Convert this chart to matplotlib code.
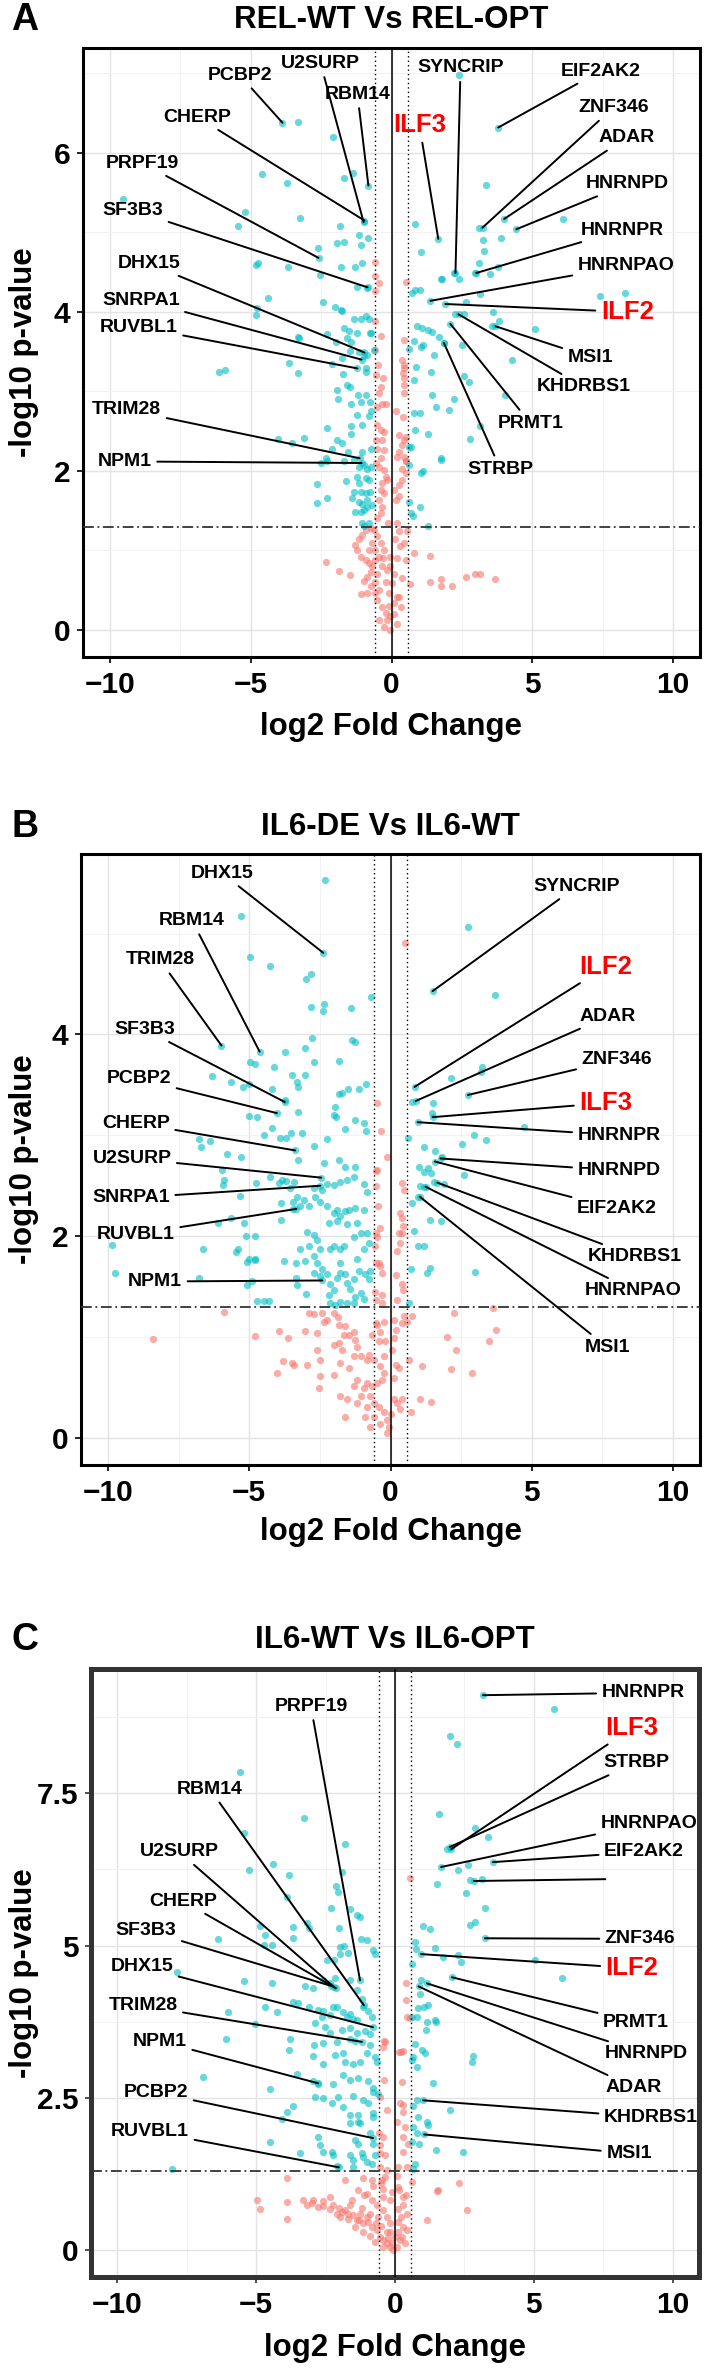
import numpy as np
import matplotlib
matplotlib.use("Agg")
import matplotlib.pyplot as plt

plt.rcParams["font.family"] = ["Liberation Sans", "DejaVu Sans"]

FC_CUT = 0.585          # |log2 FC| threshold (dotted lines)
P_CUT = 1.301           # -log10(0.05) (dash-dot line)
TEAL = "#00BFC4"
SALMON = "#F8766D"

# ---------------- panel A : REL-WT Vs REL-OPT ----------------
A_PTS = [
    (-3.33, 6.39), (-2.06, 6.2), (2.38, 6.98), (-1.67, 5.68), (-1.35, 5.75), (-4.61, 5.73),
    (-3.72, 5.62), (-9.54, 5.42), (-5.21, 5.26), (-5.46, 5.08), (-3.23, 5.18), (-1.84, 5.08),
    (3.37, 5.6), (6.1, 5.17), (3.12, 5.05), (0.85, 5.11), (3.23, 4.9), (3.9, 4.93), (3.3, 4.77),
    (-1.17, 4.97), (-0.85, 4.93), (-1.67, 4.88), (-1.95, 4.87), (-1.1, 4.84), (-2.62, 4.8),
    (7.41, 4.2), (8.3, 4.24), (5.1, 3.79), (4.26, 3.4), (-6.13, 3.25), (-5.92, 3.27),
    (-4.82, 4.59), (-4.74, 4.62), (-3.66, 4.57), (-2.54, 4.46), (-1.8, 4.57), (-1.28, 4.56),
    (-1.05, 4.62), (-1.23, 4.31), (-0.86, 4.30), (-4.39, 4.18), (-2.42, 4.13), (-4.79, 4.05),
    (-4.82, 3.96), (-1.99, 4.06), (-1.8, 4.03), (-1.75, 4.01), (-1.33, 3.91), (-1.09, 3.91),
    (-0.92, 3.95), (-0.8, 3.91), (-1.69, 3.8), (-1.51, 3.76), (-1.21, 3.74), (-0.77, 3.74),
    (-0.72, 3.73), (-2.28, 3.72), (-3.31, 3.68), (-3.27, 3.67), (-1.57, 3.67), (-1.45, 3.62),
    (-1.98, 3.62), (-1.48, 3.51), (-1.16, 3.50), (-0.98, 3.44), (-0.86, 3.46), (-0.63, 3.52),
    (-1.75, 3.42), (-2.1, 3.35), (-3.64, 3.36), (-3.31, 3.23), (-0.92, 3.29), (-0.92, 3.24),
    (-1.72, 3.22), (-1.59, 3.08), (-1.48, 3.05), (-1.95, 3.02), (-1.89, 2.90), (-1.18, 2.96),
    (-0.92, 2.95), (-1.09, 2.87), (-1.45, 2.84), (-1.24, 2.71), (-0.77, 2.87), (-0.74, 2.75),
    (-0.8, 2.69), (-1.04, 2.58), (-1.42, 2.57), (-1.45, 2.47), (-1.93, 2.39), (-1.75, 2.35),
    (-2.1, 2.28), (-2.34, 2.16), (-1.54, 2.24), (-1.34, 2.14), (-1.04, 2.24), (-0.72, 2.28),
    (-2.28, 2.54), (-3.11, 2.41), (-3.52, 2.35), (-4.03, 2.4), (-1.69, 2.13),
    (-0.57, 4.63), (-0.57, 4.45), (-0.45, 4.37), (-0.57, 4.26), (-0.57, 3.89), (-0.39, 3.70),
    (-0.57, 3.52), (-0.48, 3.33), (-0.55, 3.21), (-0.3, 3.17), (-0.39, 3.06), (-0.45, 2.98),
    (-0.33, 2.84), (-0.51, 2.81), (-0.21, 2.84), (-0.51, 2.58), (-0.39, 2.51), (-0.27, 2.49),
    (-0.55, 2.39), (-0.33, 2.39), (-0.51, 2.27), (-0.27, 2.26), (-0.39, 2.16), (-0.55, 2.10),
    (0.53, 4.38), (0.46, 3.65), (0.38, 3.4), (0.44, 3.33), (0.46, 3.29), (0.41, 3.23),
    (0.46, 3.17), (0.44, 3.08), (0.46, 2.98), (0.16, 2.75), (0.41, 2.68), (0.5, 2.43),
    (0.46, 2.39), (0.39, 2.33), (0.25, 2.24), (0.19, 2.18), (0.44, 2.18), (0.5, 2.13), (0.28, 2.45),
    (1.03, 4.76), (1.74, 4.41), (1.78, 4.41), (2.21, 4.49), (2.39, 4.42), (2.95, 4.49),
    (3.1, 4.61), (3.51, 4.48), (3.77, 4.56), (0.73, 4.24), (0.82, 4.27), (1.0, 4.28),
    (2.63, 4.12), (3.13, 4.23), (2.27, 3.98), (2.57, 3.97), (3.59, 4.0), (3.57, 3.82),
    (3.83, 3.89), (0.92, 3.82), (1.1, 3.8), (1.28, 3.77), (1.44, 3.75), (1.68, 3.69),
    (1.86, 3.61), (0.8, 3.64), (1.13, 3.58), (1.03, 3.56), (1.5, 3.46), (2.51, 3.59),
    (0.88, 3.31), (0.8, 3.14), (1.41, 3.24), (1.44, 2.96), (1.58, 2.81), (2.03, 2.77),
    (2.21, 2.90), (2.57, 3.19), (2.74, 3.12), (0.8, 2.73), (1.01, 2.73), (0.83, 2.51),
    (1.28, 2.46), (1.74, 2.16), (3.13, 2.57), (0.62, 3.53), (0.62, 2.3), (0.68, 2.3),
    (0.62, 2.08), (1.13, 2.0), (2.8, 2.4), (4.04, 2.95),
    (-2.52, 2.1), (-2.3, 2.12), (-1.14, 2.05), (-0.98, 2.07), (-0.86, 2.02), (-0.74, 2.05),
    (-2.64, 1.84), (-2.28, 1.66), (-2.66, 1.6), (-1.63, 1.87), (-1.21, 1.93), (-1.16, 1.85),
    (-0.92, 1.91), (-0.8, 1.89), (-1.34, 1.74), (-1.09, 1.74), (-0.92, 1.72), (-0.77, 1.74),
    (-1.4, 1.66), (-1.16, 1.61), (-1.04, 1.59), (-0.86, 1.63), (-1.28, 1.49), (-1.09, 1.49),
    (-0.98, 1.51), (-0.86, 1.55), (-0.68, 1.57), (-1.04, 1.34), (-0.8, 1.35), (-0.98, 1.31),
    (1.05, 1.98), (0.62, 1.61), (0.68, 1.47), (0.77, 1.43), (1.01, 1.55), (1.3, 1.31), (1.74, 2.14),
    (-0.45, 2.05), (-0.27, 2.01), (-0.21, 1.93), (-0.15, 1.89), (-0.33, 1.85), (-0.39, 1.76),
    (-0.27, 1.72), (-0.45, 1.63), (-0.33, 1.55), (-0.39, 1.47), (-0.51, 1.41), (-0.13, 1.35),
    (0.2, 1.34), (0.17, 1.63), (0.08, 1.76), (0.26, 1.82), (0.38, 2.03), (0.5, 2.12),
    (0.5, 1.97), (0.38, 1.89), (0.26, 1.68),
    (-0.63, 1.26), (-0.51, 1.18), (-0.39, 1.09), (-0.27, 1.01), (-0.45, 0.92), (-0.57, 0.88),
    (-0.33, 0.80), (-0.04, 0.92), (-0.04, 0.80), (0.08, 0.71), (0.02, 0.59), (-0.09, 0.46),
    (0.08, 0.34), (0.2, 0.42), (0.32, 0.29), (0.2, 0.08), (-0.04, 0.0), (-0.04, 0.17),
    (-0.74, 1.28), (-0.92, 1.26), (-1.04, 1.20), (-1.16, 1.14), (-1.28, 1.07), (-1.21, 1.01),
    (-1.09, 0.92), (-0.92, 0.88), (-0.8, 0.84), (-0.68, 0.80), (-0.74, 0.73), (-0.86, 0.67),
    (-0.98, 0.61), (-0.74, 0.55), (-0.57, 0.46), (-0.51, 0.38), (-0.33, 0.29), (-0.21, 0.21),
    (-0.15, 0.13), (-0.27, 0.04), (-0.45, 0.13), (-2.34, 0.86), (-1.87, 0.74), (-1.48, 0.69),
    (-1.09, 0.45), (-0.86, 0.46), (0.14, 1.14), (0.26, 1.24), (0.44, 1.09), (0.56, 1.25),
    (0.79, 0.97), (1.36, 0.93), (0.65, 0.58), (1.38, 0.6), (1.74, 0.64), (1.74, 0.55),
    (2.15, 0.55), (2.63, 0.66), (2.95, 0.71), (3.13, 0.70), (3.69, 0.64), (0.26, 0.42),
    (0.38, 0.65), (0.5, 0.88), (0.2, 0.90), (-0.6, 1.0), (-0.7, 1.1), (-0.5, 0.7), (-0.6, 0.6),
    (-0.45, 0.5), (-0.2, 0.6), (-0.1, 0.3), (0.1, 0.2), (-0.3, 0.9), (-0.8, 1.0), (0.3, 1.05),
    (-0.15, 0.75),
]
A_GENES = [
    ("PCBP2", -3.87, 6.38), ("U2SURP", -0.99, 5.13), ("RBM14", -0.82, 5.59),
    ("CHERP", -0.96, 5.15), ("PRPF19", -2.59, 4.68), ("SF3B3", -0.85, 4.31),
    ("DHX15", -0.96, 3.49), ("SNRPA1", -1.06, 3.40), ("RUVBL1", -1.21, 3.29),
    ("TRIM28", -1.13, 2.16), ("NPM1", -1.06, 2.10), ("SYNCRIP", 2.27, 4.49),
    ("EIF2AK2", 3.79, 6.32), ("ZNF346", 3.23, 5.06), ("ADAR", 4.0, 5.17),
    ("HNRNPD", 4.43, 5.04), ("HNRNPR", 3.01, 4.49), ("HNRNPAO", 1.38, 4.14),
    ("ILF2", 1.91, 4.10), ("MSI1", 3.69, 3.82), ("KHDRBS1", 2.38, 3.97),
    ("PRMT1", 2.09, 3.85), ("STRBP", 1.86, 3.61), ("ILF3", 1.66, 4.92),
]
A_LABEL_POS = {
    "PCBP2": (-5.39, 6.98), "U2SURP": (-2.52, 7.13), "RBM14": (-1.21, 6.74),
    "CHERP": (-6.88, 6.45), "PRPF19": (-8.83, 5.87), "SF3B3": (-9.18, 5.28),
    "DHX15": (-8.62, 4.61), "SNRPA1": (-8.9, 4.15), "RUVBL1": (-8.97, 3.81),
    "TRIM28": (-9.4, 2.77), "NPM1": (-9.47, 2.12), "SYNCRIP": (2.45, 7.07),
    "EIF2AK2": (7.41, 7.03), "ZNF346": (7.87, 6.57), "ADAR": (8.33, 6.19),
    "HNRNPD": (8.37, 5.61), "HNRNPR": (8.19, 5.03), "HNRNPAO": (8.33, 4.58),
    "ILF2": (8.37, 4.0), "MSI1": (7.06, 3.43), "KHDRBS1": (6.81, 3.06),
    "PRMT1": (4.93, 2.6), "STRBP": (3.87, 2.02), "ILF3": (0.99, 6.35),
}

# ---------------- panel B : IL6-DE Vs IL6-WT ----------------
B_PTS = [
    (-2.3, 5.53), (-5.3, 5.18), (-4.98, 4.77), (-4.27, 4.68), (-2.81, 4.6), (-2.99, 4.55),
    (-0.68, 4.37), (-2.81, 4.27), (-2.35, 4.3), (-2.38, 4.23), (-1.39, 4.26), (-2.78, 3.97),
    (-1.35, 3.95), (-1.25, 3.93), (-4.98, 3.73), (-4.8, 3.71), (-3.74, 3.83), (-3.02, 3.87),
    (-2.7, 3.73), (-1.81, 3.74), (-4.13, 3.68), (-3.49, 3.6), (-3.02, 3.6), (-6.33, 3.59),
    (-5.66, 3.53), (-5.23, 3.48), (-5.02, 3.51), (-4.2, 3.46), (-3.31, 3.53), (-3.27, 3.48),
    (-3.74, 3.35), (-1.81, 3.41), (-1.71, 3.42), (-1.49, 3.46), (-1.1, 3.46), (-0.85, 3.51),
    (-1.96, 3.28), (-3.27, 3.23), (-5.02, 3.19), (-4.73, 3.18), (-4.48, 3.0), (-4.2, 3.07),
    (-3.91, 2.97), (-3.7, 2.97), (-3.52, 3.02), (-3.13, 3.02), (-2.7, 2.89), (-2.24, 2.96),
    (-1.99, 3.2), (-1.92, 3.18), (-1.6, 3.06), (-1.25, 3.15), (-0.93, 3.12), (-0.85, 3.04),
    (-6.76, 2.96), (-6.69, 2.88), (-6.37, 2.94), (-5.8, 2.81), (-5.3, 2.78), (-3.27, 2.76),
    (-2.35, 2.73), (-1.81, 2.76), (-1.6, 2.69), (-1.25, 2.69),
    (0.5, 4.91), (-0.46, 3.32), (-0.32, 3.04), (-0.14, 2.78), (-0.46, 2.66),
    (2.74, 5.07), (3.7, 4.39), (0.75, 3.33), (1.49, 3.32), (2.14, 3.57), (3.2, 3.63),
    (3.24, 3.68), (1.46, 3.22), (0.62, 2.97), (2.95, 3.0), (3.38, 2.95), (4.73, 3.08),
    (2.53, 2.91), (1.2, 2.88), (1.56, 2.84), (1.81, 2.78), (1.0, 2.69), (1.32, 2.68),
    (1.17, 2.64), (1.42, 2.63),
    (-9.87, 1.91), (-6.64, 1.87), (-6.09, 2.13), (-5.65, 2.18), (-5.38, 1.87), (-5.46, 1.84),
    (-5.18, 2.13), (-5.12, 2.0), (-4.81, 2.0), (-4.78, 1.76), (-5.08, 1.74), (-5.9, 2.56),
    (-5.93, 2.51), (-5.97, 2.66), (-5.32, 2.4), (-4.75, 2.53), (-4.26, 2.59), (-3.96, 2.53),
    (-3.84, 2.56), (-3.69, 2.55), (-3.57, 2.48), (-3.43, 2.54), (-3.88, 2.33), (-3.45, 2.34),
    (-3.31, 2.39), (-3.19, 2.3), (-3.07, 2.36), (-2.9, 2.3), (-2.72, 2.48), (-2.66, 2.39),
    (-2.48, 2.34), (-2.42, 2.46), (-2.25, 2.52), (-2.01, 2.51), (-1.78, 2.54), (-1.54, 2.56),
    (-1.3, 2.59), (-0.95, 2.52), (-0.83, 2.44), (-2.25, 2.3), (-2.01, 2.23), (-1.89, 2.26),
    (-1.78, 2.2), (-1.6, 2.25), (-1.48, 2.26), (-1.25, 2.28), (-0.95, 2.26), (-2.19, 2.13),
    (-1.89, 2.15), (-1.54, 2.12), (-1.19, 2.13), (-3.87, 2.16), (-3.46, 2.27), (-2.95, 2.04),
    (-2.72, 2.01), (-2.6, 1.96), (-2.9, 1.9), (-3.19, 1.87), (-2.48, 1.87), (-2.13, 1.87),
    (-2.01, 1.9), (-1.78, 1.87), (-1.66, 1.9), (-1.3, 1.99), (-1.06, 2.03), (-0.83, 2.03),
    (-0.77, 1.93), (-0.95, 1.87), (-2.72, 1.8), (-2.6, 1.73), (-1.78, 1.73), (-1.19, 1.77),
    (1.54, 2.54), (1.05, 2.5), (1.17, 2.49), (0.97, 2.39), (0.76, 2.33), (1.39, 2.16),
    (1.8, 2.15), (0.82, 2.05), (1.17, 1.9), (0.99, 1.9), (1.9, 2.52), (2.61, 2.61),
    (0.4, 2.53), (0.49, 2.46), (0.35, 2.23), (0.39, 2.18), (0.3, 2.03), (0.4, 2.03),
    (0.35, 1.93), (0.24, 1.85), (-0.36, 2.08), (-0.53, 2.03), (-0.56, 1.9), (-0.47, 1.99),
    (-0.41, 1.73), (-0.53, 1.73), (-0.51, 2.65), (-0.45, 2.3), (0.45, 2.1), (-0.5, 2.5),
    (-9.75, 1.63), (-6.76, 1.58), (-5.08, 1.52), (-4.9, 1.55), (-4.49, 1.36), (-4.73, 1.36),
    (-4.31, 1.36), (-3.36, 1.58), (-3.31, 1.52), (-2.98, 1.43), (-2.72, 1.63), (-2.48, 1.6),
    (-2.42, 1.67), (-2.25, 1.62), (-2.13, 1.53), (-2.01, 1.47), (-2.19, 1.42), (-2.13, 1.34),
    (-1.89, 1.58), (-1.78, 1.63), (-1.6, 1.62), (-1.54, 1.54), (-1.42, 1.48), (-1.3, 1.57),
    (-1.24, 1.40), (-1.12, 1.65), (-1.06, 1.44), (-0.95, 1.38), (-0.89, 1.62), (-0.77, 1.57),
    (-0.71, 1.65), (-1.78, 1.35), (-1.54, 1.34), (-1.95, 1.32), (-1.3, 1.34), (-3.02, 1.75),
    (-5.02, 1.77), (-4.78, 1.77), (-3.78, 1.75), (-3.36, 1.73),
    (0.73, 1.67), (1.3, 1.63), (1.4, 1.68), (2.98, 1.64), (0.66, 1.34),
    (-0.36, 1.70), (-0.3, 1.63), (0.18, 1.61), (0.41, 1.53), (0.44, 1.47), (-0.3, 1.42),
    (0.24, 1.37), (-0.3, 1.34), (-0.55, 1.45), (-0.53, 1.37),
    (-5.9, 1.25), (-8.4, 0.98), (-4.78, 1.01), (-3.96, 1.06), (-3.64, 0.99), (-3.02, 1.06),
    (-2.6, 1.04), (-2.9, 1.24), (-2.72, 1.23), (-2.42, 1.24), (-2.37, 1.15), (-2.25, 1.17),
    (-2.01, 1.24), (-1.87, 1.2), (-1.83, 1.12), (-1.6, 1.11), (-1.48, 1.02), (-1.3, 1.05),
    (-1.24, 0.97), (-1.19, 0.9), (-1.66, 1.02), (-2.01, 0.92), (-1.83, 0.94), (-1.72, 0.87),
    (-1.3, 0.81), (-1.06, 0.81), (-0.83, 0.77), (-0.77, 0.82), (-0.59, 0.77), (-0.65, 1.02),
    (-0.53, 1.14), (-0.47, 1.12), (-0.36, 1.05), (-0.24, 1.15), (-0.18, 0.96), (-0.41, 0.96),
    (-0.24, 0.81), (-0.36, 0.71), (-0.24, 0.64), (-0.3, 0.57), (-0.47, 0.54), (-0.65, 0.51),
    (-0.83, 0.54), (-0.95, 0.49), (-0.71, 0.41), (-0.59, 0.34), (-0.41, 0.31), (-0.24, 0.26),
    (-0.12, 0.18), (-0.06, 0.11), (-0.12, 0.05), (-0.36, 0.14), (-0.59, 0.21), (-0.83, 0.31),
    (-1.06, 0.41), (-1.19, 0.57), (-1.3, 0.51), (-1.48, 0.69), (-1.78, 0.74), (-2.01, 0.62),
    (-2.48, 0.61), (-2.54, 0.49), (-2.48, 0.77), (-2.6, 0.87), (-2.95, 0.72), (-3.43, 0.72),
    (-3.49, 0.74), (-3.8, 0.76), (-4.02, 0.64), (-1.78, 0.41), (-1.54, 0.38), (-1.19, 0.34),
    (-1.6, 0.21), (-0.89, 0.21), (-0.71, 0.11), (0.0, 0.24), (0.12, 0.38), (0.24, 0.34),
    (0.35, 0.29), (0.41, 0.38), (0.12, 0.59), (0.18, 0.72), (0.3, 0.69), (0.65, 0.77),
    (1.12, 0.71), (2.13, 0.68), (2.9, 0.64), (2.01, 1.0), (2.3, 0.87), (3.49, 0.96),
    (3.72, 1.07), (2.25, 1.24), (3.61, 1.29), (1.06, 0.38), (1.42, 0.35), (0.12, 0.99),
    (0.18, 1.07), (0.41, 1.14), (0.59, 1.15), (0.77, 1.21), (0.47, 1.21), (0.12, 1.17),
    (0.06, 0.87), (0.71, 0.26),
]
B_GENES = [
    ("DHX15", -2.38, 4.81), ("RBM14", -4.63, 3.83), ("TRIM28", -5.98, 3.89),
    ("SF3B3", -3.74, 3.33), ("PCBP2", -4.02, 3.22), ("CHERP", -3.37, 2.85),
    ("U2SURP", -2.45, 2.58), ("SNRPA1", -2.48, 2.50), ("RUVBL1", -3.33, 2.27),
    ("NPM1", -2.41, 1.56), ("SYNCRIP", 1.49, 4.43), ("ILF2", 0.85, 3.48),
    ("ADAR", 0.89, 3.34), ("ZNF346", 2.74, 3.40), ("ILF3", 1.49, 3.18),
    ("HNRNPR", 0.96, 3.13), ("HNRNPD", 1.77, 2.77), ("EIF2AK2", 1.57, 2.74),
    ("KHDRBS1", 1.66, 2.53), ("HNRNPAO", 1.24, 2.49), ("MSI1", 1.04, 2.39),
]
B_LABEL_POS = {
    "DHX15": (-5.96, 5.6), "RBM14": (-7.02, 5.13), "TRIM28": (-8.16, 4.74),
    "SF3B3": (-8.69, 4.05), "PCBP2": (-8.9, 3.56), "CHERP": (-9.01, 3.12),
    "U2SURP": (-9.15, 2.77), "SNRPA1": (-9.18, 2.38), "RUVBL1": (-9.01, 2.02),
    "NPM1": (-8.33, 1.55), "SYNCRIP": (6.6, 5.47), "ILF2": (7.62, 4.67),
    "ADAR": (7.7, 4.18), "ZNF346": (8.01, 3.75), "ILF3": (7.62, 3.32),
    "HNRNPR": (8.09, 3.0), "HNRNPD": (8.09, 2.65), "EIF2AK2": (8.01, 2.27),
    "KHDRBS1": (8.65, 1.8), "HNRNPAO": (8.58, 1.46), "MSI1": (7.66, 0.9),
}

# ---------------- panel C : IL6-WT Vs IL6-OPT ----------------
C_PTS = [
    (5.73, 8.88), (1.98, 8.44), (2.23, 8.31), (-5.59, 7.85), (-3.28, 7.09), (-5.44, 6.85),
    (1.59, 7.16), (2.88, 6.93), (3.35, 6.78), (-1.8, 6.67), (1.87, 6.58), (-4.4, 6.34),
    (-5.26, 6.24), (-3.82, 6.16), (-1.91, 6.21), (2.63, 6.32), (2.27, 6.24), (0.54, 6.11),
    (2.7, 6.08), (3.13, 6.09), (1.51, 6.01), (-2.13, 5.98), (-2.05, 5.88), (-3.89, 5.8),
    (2.56, 5.86), (-2.31, 5.62), (-1.62, 5.6), (-1.37, 5.5), (-3.17, 5.37), (-4.86, 5.32),
    (-3.68, 5.3), (-3.1, 5.29), (-1.26, 5.47), (3.24, 5.62), (2.7, 5.34), (2.88, 5.39),
    (1.0, 5.32), (1.26, 5.27), (0.72, 5.06), (0.76, 4.94), (1.44, 4.96), (-6.38, 5.11),
    (-4.68, 5.17), (-4.72, 5.01), (-4.43, 5.01), (-3.68, 5.12), (-2.02, 5.29), (-1.23, 5.11),
    (-1.01, 5.09), (-0.79, 4.93), (-0.72, 4.86), (-1.98, 4.98), (-1.84, 4.99), (-1.69, 4.88),
    (-1.98, 4.86), (-2.2, 4.76), (-2.45, 4.76), (1.73, 4.81), (2.27, 4.84), (2.38, 4.73),
    (5.05, 4.76), (6.02, 4.47), (0.62, 4.7), (-7.86, 4.56),
    (-5.43, 4.42), (-4.44, 4.38), (-3.24, 4.33), (-2.94, 4.31), (-2.58, 4.43), (-2.34, 4.38),
    (-2.16, 4.46), (-1.63, 4.43), (-1.38, 4.27), (-1.2, 4.13), (-1.14, 4.0), (-0.96, 3.92),
    (-0.84, 3.83), (-6.0, 3.91), (-4.26, 3.91), (-4.68, 3.99), (-3.66, 4.08), (-3.48, 4.06),
    (-3.09, 4.0), (-2.76, 3.95), (-2.58, 3.93), (-2.22, 4.0), (-2.1, 4.0), (-1.86, 3.91),
    (-1.74, 3.83), (-1.62, 3.88), (-1.5, 3.79), (-1.38, 3.78), (-2.64, 3.83), (-2.34, 3.86),
    (-5.04, 3.72), (-6.1, 3.47), (-3.78, 3.47), (-3.81, 3.28), (-2.89, 3.73), (-2.52, 3.67),
    (-2.34, 3.56), (-1.92, 3.61), (-1.62, 3.64), (-1.38, 3.56), (-1.08, 3.59), (-0.9, 3.55),
    (-2.9, 3.37), (-2.58, 3.4), (-2.1, 3.42), (-1.62, 3.47), (-1.44, 3.44), (-0.9, 3.37),
    (-2.94, 3.18), (-2.58, 3.06), (-2.16, 3.2), (-1.86, 3.23), (-1.8, 3.09), (-1.5, 3.06),
    (-1.26, 3.09), (-1.02, 3.23), (-0.72, 3.17), (-0.66, 3.09), (-3.54, 2.9), (-2.94, 2.77),
    (-2.76, 2.72), (-2.22, 2.72), (-1.86, 2.88), (-1.62, 2.8), (-1.32, 2.83), (-0.96, 2.77),
    (-0.78, 2.66), (-4.5, 2.64), (-6.93, 2.85),
    (0.95, 4.44), (0.9, 4.21), (0.84, 3.97), (1.04, 4.0), (1.2, 4.02), (0.78, 3.83),
    (0.62, 3.83), (1.14, 3.75), (1.44, 3.78), (1.48, 3.75), (1.12, 3.61), (0.72, 3.39),
    (0.96, 3.28), (1.08, 3.24), (0.66, 3.17), (0.78, 3.0), (1.38, 2.75), (0.62, 3.12),
    (2.8, 3.18), (2.76, 3.09),
    (0.38, 4.38), (0.39, 4.11), (0.44, 3.82), (-0.4, 3.44), (-0.43, 3.34), (0.13, 3.25),
    (0.3, 3.27), (-0.38, 2.8), (0.24, 2.76), (-0.36, 3.42), (0.22, 3.25), (0.29, 2.38), (0.55, 3.81),
    (-8.05, 1.33), (-4.5, 1.78), (-3.9, 2.27), (-4.08, 2.16), (-3.66, 2.36), (-3.42, 1.59),
    (-2.88, 2.51), (-2.58, 2.49), (-2.28, 2.41), (-2.04, 2.52), (-1.86, 2.35), (-1.62, 2.22),
    (-1.5, 2.53), (-1.32, 2.11), (-1.14, 2.46), (-0.96, 2.41), (-0.78, 2.19), (-0.62, 2.57),
    (-0.8, 2.6), (-2.76, 1.86), (-2.7, 1.72), (-2.58, 1.61), (-2.28, 1.61), (-2.22, 1.56),
    (-2.1, 1.38), (-1.5, 1.37), (-1.44, 1.81), (-1.32, 1.75), (-1.2, 1.59), (-1.14, 1.53),
    (-1.02, 1.45), (-0.84, 1.42), (-0.78, 1.75), (-0.72, 1.56), (-1.5, 1.48), (-1.62, 1.56),
    (-1.32, 2.22), (-1.26, 2.08), (-0.9, 1.92), (-0.8, 2.25), (-1.62, 2.08),
    (0.78, 2.46), (0.66, 2.36), (0.84, 2.19), (1.2, 2.05), (1.14, 2.11), (0.66, 2.02),
    (0.78, 1.92), (0.88, 1.75), (1.48, 1.64), (1.98, 2.3), (2.46, 1.61), (0.62, 1.78),
    (0.72, 1.42), (0.66, 1.34),
    (-0.54, 2.52), (-0.28, 2.3), (-0.57, 1.92), (-0.42, 1.86), (-0.54, 1.72), (-0.36, 1.56),
    (-0.54, 1.59), (-0.55, 1.37), (-0.3, 1.31), (0.18, 2.41), (0.3, 2.27), (0.06, 2.11),
    (0.36, 2.03), (0.3, 1.86), (0.48, 1.75), (0.3, 1.61), (0.12, 1.37), (0.42, 1.37),
    (-3.88, 1.18), (-1.8, 1.16), (-1.14, 1.19), (-0.84, 1.16), (-0.48, 1.15), (-0.42, 1.01),
    (0.06, 1.21), (0.12, 1.04), (0.6, 1.12), (1.5, 0.97), (2.32, 1.1),
    (-4.96, 0.82), (-4.86, 0.67), (-3.9, 0.79), (-3.88, 0.52), (-2.34, 0.87), (-3.3, 0.82),
    (-3.18, 0.74), (-2.94, 0.82), (-2.76, 0.71), (-2.58, 0.72), (-2.34, 0.68), (-2.22, 0.74),
    (-2.1, 0.6), (-1.98, 0.55), (-1.8, 0.66), (-1.62, 0.74), (-1.5, 0.58), (-1.38, 0.49),
    (-1.26, 0.6), (-1.14, 0.44), (-0.96, 0.46), (-0.84, 0.38), (-0.66, 0.33), (-0.54, 0.22),
    (-0.42, 0.17), (-0.3, 0.11), (-0.18, 0.06), (-0.06, 0.0), (-1.68, 0.52), (-1.44, 0.38),
    (-1.14, 0.3), (-0.9, 0.24), (-0.72, 0.14), (-0.42, 0.06), (-1.56, 0.82), (-1.32, 0.99),
    (-1.02, 0.93), (-0.84, 0.82), (-0.66, 0.74), (-0.42, 0.66), (-0.3, 0.55), (-0.18, 0.82),
    (-0.42, 0.87), (-0.18, 0.44), (0.12, 0.46), (0.3, 0.38), (0.42, 0.33), (0.24, 0.22),
    (0.18, 0.17), (0.36, 0.11), (0.06, 0.06), (0.0, 0.22), (-0.18, 0.3), (0.12, 0.68),
    (0.3, 0.74), (0.16, 0.99), (0.3, 0.87), (1.14, 0.49), (2.58, 0.66), (1.56, 0.99),
    (-3.0, 0.78), (-2.6, 0.8), (-2.0, 0.7), (-1.9, 0.62), (-1.7, 0.6), (-1.3, 0.5),
    (-1.0, 0.55), (-0.7, 0.45), (-0.5, 0.4), (-0.3, 0.3), (-1.2, 0.7), (-0.9, 0.6),
    (-0.6, 0.55), (-0.25, 0.2), (-0.1, 0.12), (0.1, 0.3), (0.2, 0.55), (-0.1, 0.95),
    (-0.5, 1.1), (-0.8, 1.05), (-1.1, 0.9), (0.45, 0.6), (0.4, 0.9), (-0.35, 1.2),
]
C_GENES = [
    ("PRPF19", -1.26, 4.43), ("RBM14", -1.12, 4.02), ("U2SURP", -2.2, 4.32),
    ("CHERP", -2.13, 4.3), ("SF3B3", -2.31, 4.34), ("DHX15", -0.79, 3.66),
    ("TRIM28", -1.19, 3.42), ("NPM1", -2.77, 2.74), ("PCBP2", -0.79, 1.84),
    ("RUVBL1", -2.02, 1.36), ("HNRNPR", 3.17, 9.11), ("ILF3", 2.02, 6.58),
    ("STRBP", 1.98, 6.62), ("HNRNPAO", 1.66, 6.29), ("EIF2AK2", 3.53, 6.37),
    ("ZNF346", 3.24, 5.12), ("ILF2", 0.94, 4.86), ("PRMT1", 2.05, 4.48),
    ("HNRNPD", 1.15, 4.38), ("ADAR", 0.85, 4.33), ("KHDRBS1", 1.01, 2.46),
    ("MSI1", 1.05, 1.9), ("", 2.85, 6.06),
]
C_LABEL_POS = {
    "PRPF19": (-3.03, 8.93), "RBM14": (-6.67, 7.57), "U2SURP": (-7.78, 6.54),
    "CHERP": (-7.64, 5.73), "SF3B3": (-8.97, 5.25), "DHX15": (-9.12, 4.65),
    "TRIM28": (-9.08, 4.01), "NPM1": (-8.47, 3.43), "PCBP2": (-8.61, 2.59),
    "RUVBL1": (-8.82, 1.95), "HNRNPR": (8.94, 9.15), "ILF3": (8.54, 8.57),
    "STRBP": (8.68, 8.0), "HNRNPAO": (9.15, 7.01), "EIF2AK2": (8.97, 6.54),
    "ZNF346": (8.83, 5.11), "ILF2": (8.54, 4.63), "PRMT1": (8.68, 3.74),
    "HNRNPD": (9.04, 3.23), "ADAR": (8.61, 2.67), "KHDRBS1": (9.22, 2.18),
    "MSI1": (8.43, 1.59), "": (7.57, 6.09),
}

W, H = 709, 2370
PANELS = [
    dict(letter="A", title="REL-WT Vs REL-OPT", pts=A_PTS, genes=A_GENES, lab=A_LABEL_POS,
         box=(83, 48, 700, 657), ylim=(-0.34, 7.32), yticks=[0, 2, 4, 6], yminor=[1, 3, 5, 7],
         head_y=20, xlab_y=727, frame="black", frame_w=2.2),
    dict(letter="B", title="IL6-DE Vs IL6-WT", pts=B_PTS, genes=B_GENES, lab=B_LABEL_POS,
         box=(81, 854, 700, 1465), ylim=(-0.27, 5.79), yticks=[0, 2, 4], yminor=[1, 3, 5],
         head_y=827, xlab_y=1532, frame="black", frame_w=2.2),
    dict(letter="C", title="IL6-WT Vs IL6-OPT", pts=C_PTS, genes=C_GENES, lab=C_LABEL_POS,
         box=(91, 1669, 699, 2277), ylim=(-0.44, 9.54), yticks=[0, 2.5, 5, 7.5],
         yminor=[1.25, 3.75, 6.25, 8.75], head_y=1640, xlab_y=2348, frame="#333333", frame_w=3.6),
]


def draw_panel(fig, p):
    l, t, r, b = p["box"]
    ax = fig.add_axes([l / W, 1 - b / H, (r - l) / W, (b - t) / H])
    ax.set_xlim(-10.95, 10.95)
    ax.set_ylim(*p["ylim"])
    ax.set_xticks([-10, -5, 0, 5, 10])
    ax.set_xticks([-7.5, -2.5, 2.5, 7.5], minor=True)
    ax.set_yticks(p["yticks"])
    ax.set_yticks(p["yminor"], minor=True)
    ax.set_yticklabels([f"{v:g}" for v in p["yticks"]])
    ax.grid(which="major", color="#E3E3E3", lw=1.0, zorder=0)
    ax.grid(which="minor", color="#F0F0F0", lw=0.6, zorder=0)
    ax.set_axisbelow(True)
    for s in ax.spines.values():
        s.set_linewidth(p["frame_w"])
        s.set_color(p["frame"])
    ax.tick_params(which="major", length=4, width=1.2, color=p["frame"],
                   labelsize=21.5, pad=5)
    ax.tick_params(axis="x", pad=6)
    ax.tick_params(which="minor", length=0)
    for lab in ax.get_xticklabels() + ax.get_yticklabels():
        lab.set_fontweight("bold")

    pts = np.array(p["pts"] + [(g[1], g[2]) for g in p["genes"]])
    x, y = pts[:, 0], pts[:, 1]
    sig = (y > P_CUT) & (np.abs(x) > FC_CUT)
    ax.scatter(x[~sig], y[~sig], s=27, color=SALMON, alpha=0.6, lw=0, zorder=2)
    ax.scatter(x[sig], y[sig], s=27, color=TEAL, alpha=0.6, lw=0, zorder=2)

    ax.axvline(0, color="black", lw=1.1, zorder=3)
    for v in (-FC_CUT, FC_CUT):
        ax.axvline(v, color="black", lw=1.0, ls=(0, (1, 2.2)), zorder=3)
    ax.axhline(P_CUT, color="#333333", lw=1.3, ls=(0, (6, 2, 1, 2)), zorder=3)

    for name, gx, gy in p["genes"]:
        tx, ty = p["lab"][name]
        if name == "":
            ax.plot([tx, gx], [ty, gy], color="black", lw=1.4, zorder=4)
            continue
        red = name in ("ILF2", "ILF3")
        ax.annotate(name, xy=(gx, gy), xytext=(tx, ty), ha="center", va="center",
                    fontsize=18.5 if red else 14, fontweight="bold",
                    color="#FF0000" if red else "black",
                    arrowprops=dict(arrowstyle="-", color="black", lw=1.4,
                                    shrinkA=2, shrinkB=0),
                    annotation_clip=False, zorder=5)

    cx = (l + r) / 2 / W
    fig.text(25 / W, 1 - p["head_y"] / H, p["letter"], fontsize=27, fontweight="bold",
             ha="center", va="center")
    fig.text(cx, 1 - p["head_y"] / H, p["title"], fontsize=22.5, fontweight="bold",
             ha="center", va="center")
    fig.text(cx, 1 - p["xlab_y"] / H, "log2 Fold Change", fontsize=22.5, fontweight="bold",
             ha="center", va="center")
    fig.text(24 / W, 1 - (t + b) / 2 / H, "-log10 p-value", fontsize=22.5, fontweight="bold",
             ha="center", va="center", rotation=90)


fig = plt.figure(figsize=(W / 100, H / 100), dpi=100)
for panel in PANELS:
    draw_panel(fig, panel)
fig.savefig("out.png", dpi=100)
